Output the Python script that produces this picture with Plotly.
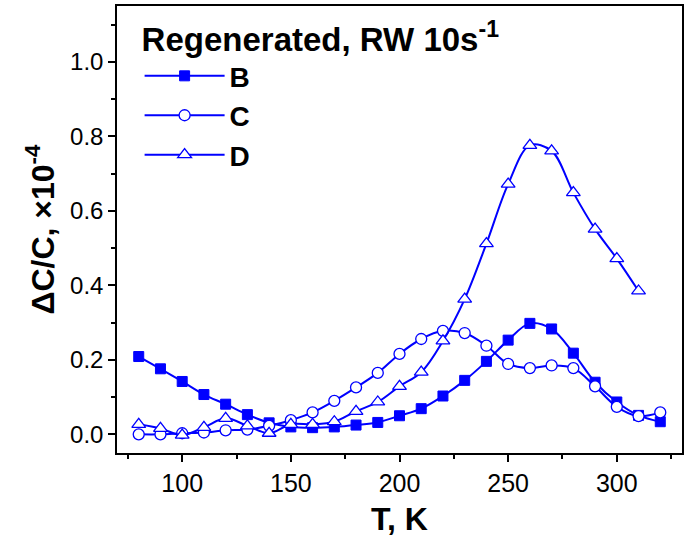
import plotly.graph_objects as go

T_BC = [80, 90, 100, 110, 120, 130, 140, 150, 160, 170, 180, 190, 200,
        210, 220, 230, 240, 250, 260, 270, 280, 290, 300, 310, 320]
T_D = [80, 90, 100, 110, 120, 130, 140, 150, 160, 170, 180, 190, 200,
       210, 220, 230, 240, 250, 260, 270, 280, 290, 300, 310]

B = [0.209, 0.176, 0.142, 0.107, 0.081, 0.053, 0.031, 0.020, 0.018, 0.020,
     0.025, 0.032, 0.050, 0.069, 0.103, 0.145, 0.196, 0.253, 0.298, 0.283,
     0.218, 0.140, 0.087, 0.051, 0.034]
C = [0.000, 0.000, 0.003, 0.005, 0.011, 0.013, 0.023, 0.038, 0.059, 0.090,
     0.126, 0.165, 0.216, 0.256, 0.278, 0.272, 0.238, 0.189, 0.178, 0.185,
     0.178, 0.129, 0.074, 0.049, 0.059]
D = [0.027, 0.016, -0.002, 0.019, 0.043, 0.023, 0.003, 0.027, 0.027, 0.034,
     0.062, 0.087, 0.129, 0.167, 0.251, 0.363, 0.512, 0.672, 0.776, 0.761,
     0.649, 0.551, 0.472, 0.385]

X_RANGE = [70, 330]
Y_RANGE = [-0.05, 1.15]

BLUE = "#0000FF"
FONT = "Liberation Sans, Arial, sans-serif"

fig = go.Figure()
fig.add_trace(go.Scatter(
    x=T_BC, y=B, name="<b>B</b>", mode="lines+markers",
    line=dict(color=BLUE, width=2, shape="spline", smoothing=1),
    marker=dict(symbol="square", size=10, color=BLUE,
                line=dict(color=BLUE, width=1))))
fig.add_trace(go.Scatter(
    x=T_BC, y=C, name="<b>C</b>", mode="lines+markers",
    line=dict(color=BLUE, width=2, shape="spline", smoothing=1),
    marker=dict(symbol="circle", size=11, color="white",
                line=dict(color=BLUE, width=1.3))))
fig.add_trace(go.Scatter(
    x=T_D, y=D, name="<b>D</b>", mode="lines+markers",
    line=dict(color=BLUE, width=2, shape="spline", smoothing=1),
    marker=dict(symbol="triangle-up", size=12, color="white",
                line=dict(color=BLUE, width=1.3))))

fig.update_layout(
    width=696, height=543,
    margin=dict(l=117, r=14, t=4, b=90),
    plot_bgcolor="white", paper_bgcolor="white",
    font=dict(family=FONT, size=24, color="black"),
    showlegend=True,
    legend=dict(
        title=dict(text="<b>Regenerated, RW 10s<sup>-1</sup></b>",
                   font=dict(size=33, family=FONT)),
        font=dict(size=28, family=FONT),
        x=0.04, y=0.995, xanchor="left", yanchor="top",
        bgcolor="rgba(0,0,0,0)", borderwidth=0,
        itemwidth=80, tracegroupgap=0,
    ),
    xaxis=dict(
        range=X_RANGE, dtick=50, tick0=0,
        showline=True, linecolor="black", linewidth=1.5, mirror=True,
        ticks="outside", ticklen=7, tickwidth=1.5, tickcolor="black",
        minor=dict(dtick=25, ticks="outside", ticklen=4, tickwidth=1.5, tickcolor="black"),
        showgrid=False, zeroline=False,
        tickfont=dict(size=25),
        title=dict(text="<b>T, K</b>", font=dict(size=32), standoff=12),
    ),
    yaxis=dict(
        range=Y_RANGE, dtick=0.2, tick0=0, tickformat=".1f",
        showline=True, linecolor="black", linewidth=1.5, mirror=True,
        ticks="outside", ticklen=7, tickwidth=1.5, tickcolor="black",
        minor=dict(dtick=0.1, ticks="outside", ticklen=4, tickwidth=1.5, tickcolor="black"),
        showgrid=False, zeroline=False,
        tickfont=dict(size=24),
        title=dict(text="<b>ΔC/C, ×10<sup>-4</sup></b>", font=dict(size=32), standoff=6),
    ),
    xaxis2=dict(
        range=X_RANGE, dtick=50, tick0=0, overlaying="x", side="top",
        showline=False, showticklabels=False, showgrid=False, zeroline=False,
        ticks="inside", ticklen=7, tickwidth=1.5, tickcolor="black",
        minor=dict(dtick=25, ticks="inside", ticklen=4, tickwidth=1.5, tickcolor="black"),
    ),
    yaxis2=dict(
        range=Y_RANGE, dtick=0.2, tick0=0, overlaying="y", side="right",
        showline=False, showticklabels=False, showgrid=False, zeroline=False,
        ticks="inside", ticklen=7, tickwidth=1.5, tickcolor="black",
        minor=dict(dtick=0.1, ticks="inside", ticklen=4, tickwidth=1.5, tickcolor="black"),
    ),
)

fig.write_html("out.html")
